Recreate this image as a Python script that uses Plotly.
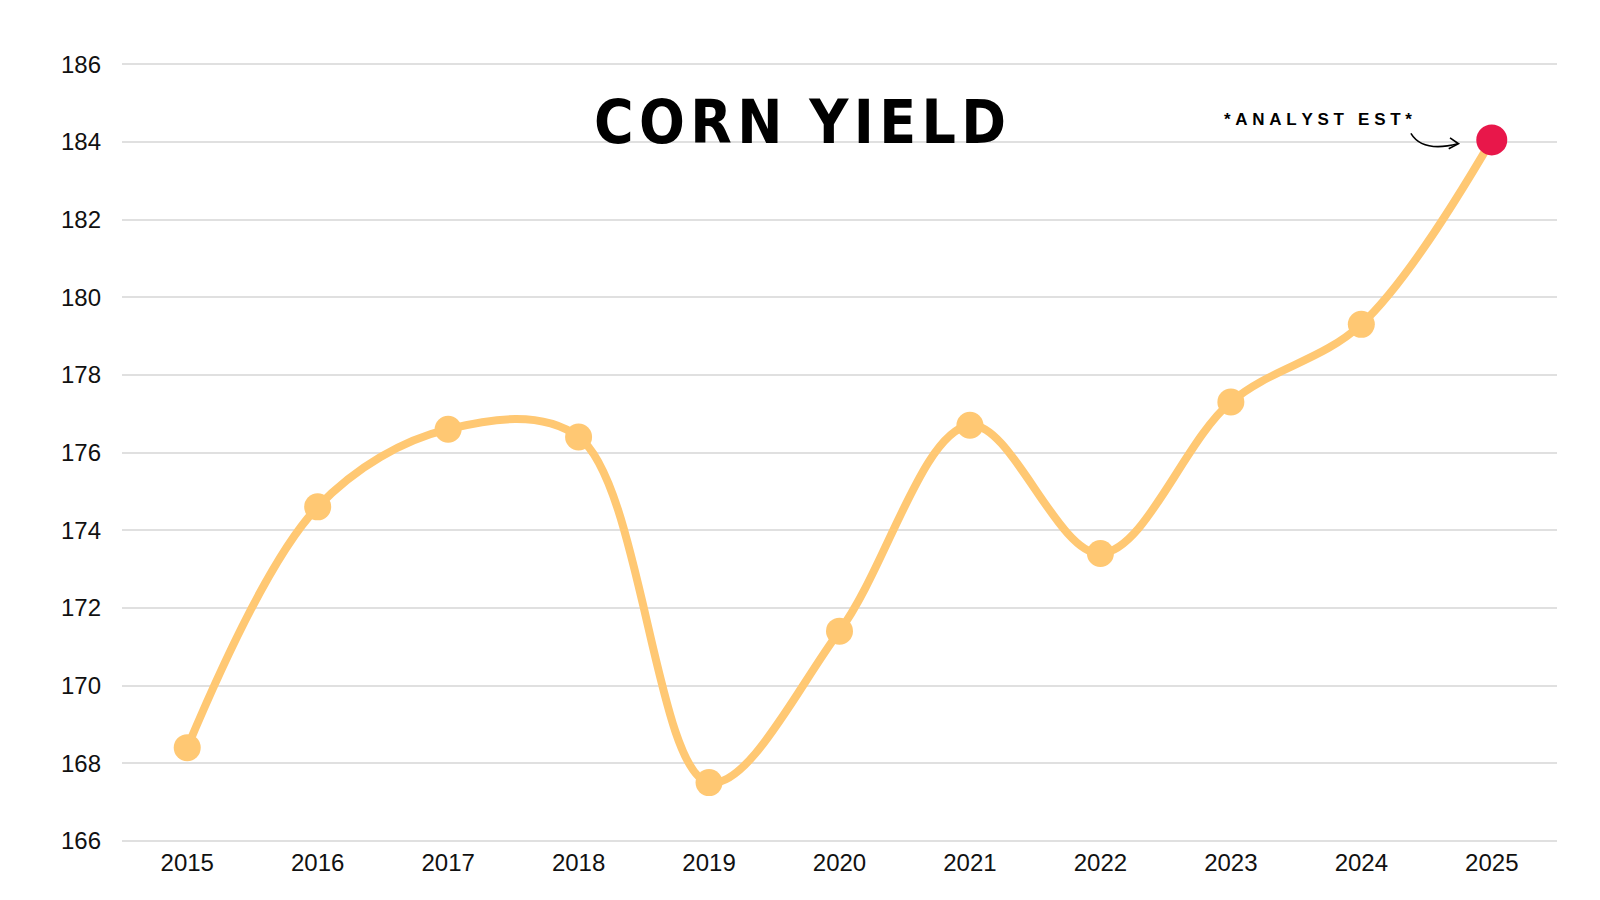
import plotly.graph_objects as go

years = [2015, 2016, 2017, 2018, 2019, 2020, 2021, 2022, 2023, 2024, 2025]
yields = [168.4, 174.6, 176.6, 176.4, 167.5, 171.4, 176.7, 173.4, 177.3, 179.3, 184.05]
y_ticks = [166, 168, 170, 172, 174, 176, 178, 180, 182, 184, 186]

line_color = "#FFC873"
est_color = "#E8174A"

# page body has an 8px margin; plot area target: x 122..1557, y 63..842
W, H = 1584, 884
ML, MR, MT, MB = 114, 35, 55, 50
PW, PH = W - ML - MR, H - MT - MB


def px_to_paper(px, py):
    return ((px - 8 - ML) / PW, (H - (py - 8) - MB) / PH)


fig = go.Figure()
fig.add_trace(go.Scatter(
    x=years, y=yields, mode="lines",
    line=dict(color=line_color, width=8, shape="spline", smoothing=1.0),
    hoverinfo="skip", showlegend=False))
fig.add_trace(go.Scatter(
    x=years[:-1], y=yields[:-1], mode="markers",
    marker=dict(color=line_color, size=27),
    showlegend=False))
fig.add_trace(go.Scatter(
    x=years[-1:], y=yields[-1:], mode="markers",
    marker=dict(color=est_color, size=31),
    showlegend=False))

tx, ty = px_to_paper(800, 122)
fig.add_annotation(
    x=tx, y=ty, xref="paper", yref="paper",
    text="C\u200aO\u200aR\u200aN\u2002Y\u200aI\u200aE\u200aL\u200aD", showarrow=False,
    font=dict(family="DejaVu Sans Condensed, DejaVu Sans, sans-serif",
              size=60, color="#000000", weight="bold"),
    xanchor="center", yanchor="middle")

ax_, ay_ = px_to_paper(1318, 120)
sp = "\u00a0"
fig.add_annotation(
    x=ax_, y=ay_, xref="paper", yref="paper",
    text=sp.join("*ANALYST") + sp * 3 + sp.join("EST*"), showarrow=False,
    font=dict(family="Liberation Sans, Arial, sans-serif", size=17, color="#000000", weight="bold"),
    xanchor="center", yanchor="middle")

# curved arrow for analyst estimate
fig.add_shape(type="path",
              path="M 2024.38,184.22 Q 2024.47,183.72 2024.74,183.95",
              line=dict(color="#000000", width=1.6), xref="x", yref="y")
fig.add_shape(type="path",
              path="M 2024.68,184.10 L 2024.745,183.95 L 2024.67,183.82",
              line=dict(color="#000000", width=1.6), xref="x", yref="y")

fig.update_layout(
    width=W, height=H,
    paper_bgcolor="white", plot_bgcolor="white",
    margin=dict(l=ML, r=MR, t=MT, b=MB),
    font=dict(family="Liberation Sans, Arial, sans-serif", size=24, color="#111111"),
    xaxis=dict(range=[2014.5, 2025.5], tickvals=years, ticktext=[str(y) for y in years],
               showgrid=False, zeroline=False, showline=False, ticks="",
               ticklabelstandoff=4, fixedrange=True),
    yaxis=dict(range=[165.97, 186.03], tickvals=y_ticks, showgrid=True,
               gridcolor="#E0E0E0", gridwidth=1.5, zeroline=False, showline=False,
               ticks="", ticklabelstandoff=20, fixedrange=True),
)

fig.write_html("out.html")
